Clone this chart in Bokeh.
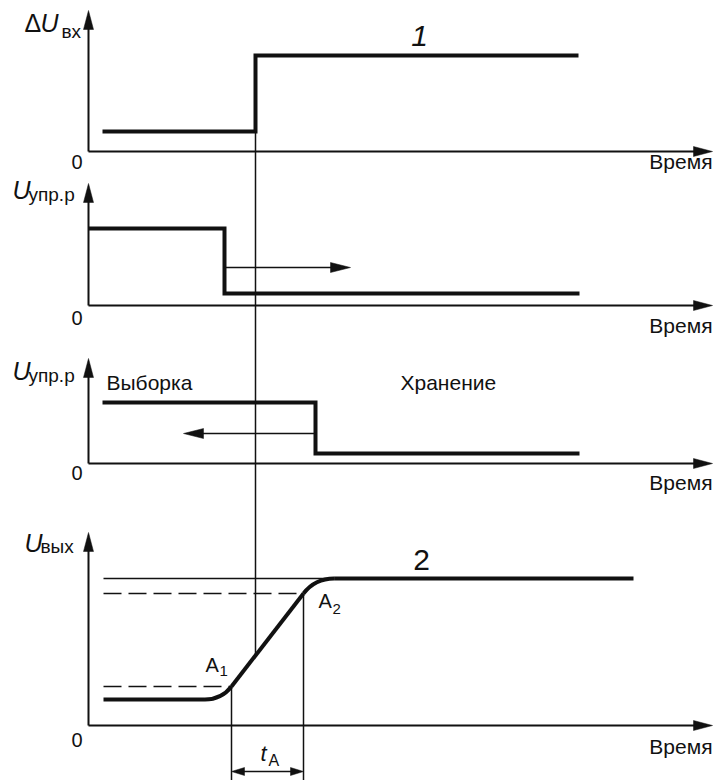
import math
from bokeh.plotting import figure
from bokeh.models import Range1d
from bokeh.core.properties import value
from bokeh.embed import file_html
from bokeh.resources import INLINE

# ---------------- data (time in arbitrary units, values per panel) ----------------
# panel 1: input step (curve 1)
in_t = [14, 167, 167, 490]
in_v = [20, 20, 96, 96]
# panel 2: control voltage (sample -> hold command)
c1_t = [0, 136, 136, 491]
c1_v = [77, 77, 12, 12]
c1_arrow_t = [136, 262]
c1_arrow_v = 38
# panel 3: control voltage (shifted)
c2_t = [14, 227, 227, 491]
c2_v = [61, 61, 10, 10]
c2_arrow_t = [227, 95]
c2_arrow_v = 30
# panel 4: output (curve 2)
out_t = [15, 545]          # start / end of trace
out_low, out_high = 26, 147
a_t = [143, 215]           # A1, A2 time
a_v = [39, 132]            # A1, A2 level
ta_arrow_v = -46

# texts
y_names = ["U", "U", "U", "U"]
y_subs = ["вх", "упр.р", "упр.р", "вых"]
x_name = "Время"
zero_lbl = "0"
mode_lbls = ["Выборка", "Хранение"]
curve_lbls = ["1", "2"]
point_lbls = ["A", "A"]
point_subs = ["1", "2"]

# ---------------- layout ----------------
base = [629, 475, 317, 55]      # vertical offset of each panel's zero line
ax_h = [141, 122, 105, 193]     # y-axis length per panel
ax_len = 624                    # time-axis length
FONT = value("Liberation Sans")
BLACK = "#111111"

p = figure(width=714, height=780, output_backend="svg", toolbar_location=None,
           x_range=Range1d(-88, 626), y_range=Range1d(0, 780),
           x_axis_location=None, y_axis_location=None, min_border=0)
p.grid.visible = False
p.outline_line_color = None
p.background_fill_color = "white"
p.border_fill_color = "white"


def Y(i, v):
    return base[i] + v


def head(tx, ty, dx, dy, L, W):
    n = math.hypot(dx, dy)
    ux, uy = dx / n, dy / n
    bx, by = tx - L * ux, ty - L * uy
    px, py = -uy, ux
    return [tx, bx + W * px, bx - W * px], [ty, by + W * py, by - W * py]


heads_x, heads_y = [], []

# axes
for i in range(4):
    L = 19
    p.line([0, 0], [Y(i, 0), Y(i, ax_h[i] - L + 2)], line_width=2, line_color=BLACK)
    p.line([0, ax_len - L + 2], [Y(i, 0), Y(i, 0)], line_width=2, line_color=BLACK)
    hx, hy = head(0, Y(i, ax_h[i]), 0, 1, L, 5)
    heads_x.append(hx); heads_y.append(hy)
    hx, hy = head(ax_len, Y(i, 0), 1, 0, L, 5)
    heads_x.append(hx); heads_y.append(hy)

# thick step signals
p.line(in_t, [Y(0, v) for v in in_v], line_width=4, line_color=BLACK, line_join="miter")
p.line(c1_t, [Y(1, v) for v in c1_v], line_width=4, line_color=BLACK, line_join="miter")
p.line(c2_t, [Y(2, v) for v in c2_v], line_width=4, line_color=BLACK, line_join="miter")

# direction arrows in panels 2 and 3
AL, AW = 20, 5
p.line([c1_arrow_t[0], c1_arrow_t[1] - AL + 2], [Y(1, c1_arrow_v)] * 2, line_width=1.6, line_color=BLACK)
hx, hy = head(c1_arrow_t[1], Y(1, c1_arrow_v), 1, 0, AL, AW)
heads_x.append(hx); heads_y.append(hy)
p.line([c2_arrow_t[0], c2_arrow_t[1] + AL - 2], [Y(2, c2_arrow_v)] * 2, line_width=1.6, line_color=BLACK)
hx, hy = head(c2_arrow_t[1], Y(2, c2_arrow_v), -1, 0, AL, AW)
heads_x.append(hx); heads_y.append(hy)

# output curve: straight ramp between A1 and A2, rounded corners
slope = (a_v[1] - a_v[0]) / (a_t[1] - a_t[0])
c_lo = a_t[0] - (a_v[0] - out_low) / slope       # control point of lower bend
c_hi = a_t[1] + (out_high - a_v[1]) / slope      # control point of upper bend
d_lo = math.hypot(a_t[0] - c_lo, a_v[0] - out_low)
d_hi = math.hypot(c_hi - a_t[1], out_high - a_v[1])
p_lo = c_lo - d_lo
p_hi = c_hi + d_hi

# thin reference lines (steady level and dashed A-levels)
p.line([out_t[0], p_hi], [Y(3, out_high)] * 2, line_width=1.5, line_color=BLACK)
p.line([out_t[0], a_t[1]], [Y(3, a_v[1])] * 2, line_width=1.5, line_color=BLACK, line_dash="18 7")
p.line([out_t[0], a_t[0]], [Y(3, a_v[0])] * 2, line_width=1.5, line_color=BLACK, line_dash="18 7")

p.line([out_t[0], p_lo], [Y(3, out_low)] * 2, line_width=4, line_color=BLACK)
p.quadratic(x0=[p_lo, a_t[1]], y0=[Y(3, out_low), Y(3, a_v[1])],
            x1=[a_t[0], p_hi], y1=[Y(3, a_v[0]), Y(3, out_high)],
            cx=[c_lo, c_hi], cy=[Y(3, out_low), Y(3, out_high)],
            line_width=4, line_color=BLACK)
p.line(a_t, [Y(3, v) for v in a_v], line_width=4, line_color=BLACK)
p.line([p_hi, out_t[1]], [Y(3, out_high)] * 2, line_width=4, line_color=BLACK)

# vertical marker through all panels (at input step)
t_step = in_t[1]
v_at_step = a_v[0] + (t_step - a_t[0]) * slope
p.line([t_step, t_step], [Y(0, in_v[0]), Y(3, v_at_step)], line_width=1.5, line_color=BLACK)

# verticals at A1, A2 down to bottom
for t, v in zip(a_t, a_v):
    p.line([t, t], [Y(3, v), -20], line_width=1.5, line_color=BLACK)

# t_A double arrow
TL, TW = 13, 4
p.line([a_t[0] + TL - 2, a_t[1] - TL + 2], [Y(3, ta_arrow_v)] * 2, line_width=1.5, line_color=BLACK)
hx, hy = head(a_t[0], Y(3, ta_arrow_v), -1, 0, TL, TW)
heads_x.append(hx); heads_y.append(hy)
hx, hy = head(a_t[1], Y(3, ta_arrow_v), 1, 0, TL, TW)
heads_x.append(hx); heads_y.append(hy)

p.patches(heads_x, heads_y, fill_color=BLACK, line_color=BLACK, line_width=0.5)

# ---------------- texts ----------------
def txt(x, y, s, size, style="normal", align="left"):
    lift = 0.3 * size   # compensate rendered baseline position
    p.text(x=x, y=[v + lift for v in y], text=s, text_font=FONT,
           text_font_size=value(f"{size}px"), text_font_style=style,
           text_align=align, text_baseline="alphabetic", text_color=BLACK)

# y-axis names
txt([-64], [750], ["Δ"], 25)
txt([-48, -76, -76, -64], [750, 583, 402, 230], y_names, 25, "italic")
txt([-27, -60, -60, -48], [743, 580, 399, 228], y_subs, 19)
# zeros
txt([-6] * 4, [613, 457, 302, 35], [zero_lbl] * 4, 20, align="right")
# time labels
txt([624] * 4, [613, 449, 292, 28], [x_name] * 4, 21, align="right")
# mode labels
txt([18, 312], [392, 392], mode_lbls, 21)
# curve numbers
txt([331], [736], [curve_lbls[0]], 30, "italic", align="center")
txt([333], [212], [curve_lbls[1]], 30, align="center")
# A1, A2
txt([117, 230], [110, 174], point_lbls, 20)
txt([131, 244], [105, 167], point_subs, 15)
# t_A
txt([172], [20], ["t"], 22, "italic")
txt([180], [15], ["A"], 16)

open("out.html", "w").write(file_html(p, INLINE))
